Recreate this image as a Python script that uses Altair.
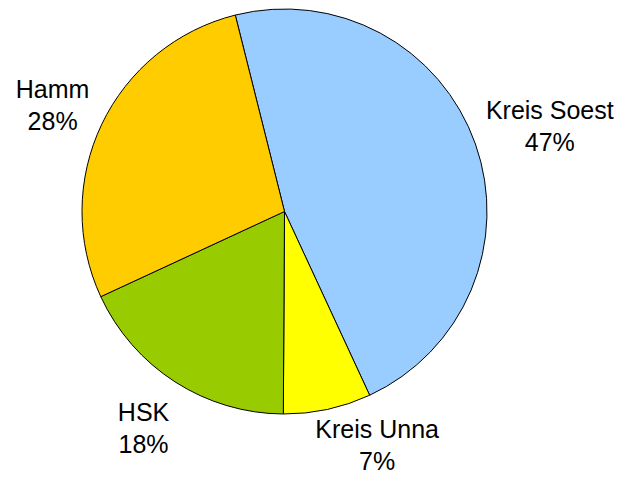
import math
import altair as alt
import pandas as pd

# Data
regions = ["Kreis Soest", "Kreis Unna", "HSK", "Hamm"]
shares = [47, 7, 18, 28]
colors = ["#99CCFF", "#FFFF00", "#99CC00", "#FFCC00"]

df = pd.DataFrame({
    "region": regions,
    "share": shares,
    "order": list(range(len(regions))),
    "label": [f"{r}\n{s}%" for r, s in zip(regions, shares)],
})

start = -math.radians(14.07)
cx, cy = 276.5, 203.5
R = 202.5

tscale = alt.Scale(domain=[0, sum(shares)], range=[start, start + 2 * math.pi])
color = alt.Color("region:N", scale=alt.Scale(domain=regions, range=colors), legend=None)

base = alt.Chart(df).transform_stack(
    stack="share", groupby=[], as_=["s0", "s1"], sort=[alt.SortField("order", "ascending")]
).transform_calculate(mid="(datum.s0 + datum.s1) / 2").encode(
    x=alt.value(cx),
    y=alt.value(cy),
)

pie = base.mark_arc(outerRadius=R, stroke="black", strokeWidth=1).encode(
    theta=alt.Theta("s0:Q", scale=tscale),
    theta2="s1:Q",
    color=color,
)


def label_layer(name, dx=0, dy=0):
    return base.transform_filter(alt.datum.region == name).mark_text(
        radius=257, dx=dx, dy=dy - 15, fontSize=25, lineHeight=32,
        font="Liberation Sans", color="black", align="center", baseline="middle",
        lineBreak="\n",
    ).encode(theta=alt.Theta("mid:Q", scale=tscale, stack=None), text="label:N")


labels = [
    label_layer("Kreis Soest", dx=23),
    label_layer("Kreis Unna", dx=38, dy=-18),
    label_layer("HSK", dx=-2),
    label_layer("Hamm", dy=4),
]

chart = alt.layer(pie, *labels).properties(
    width=612, height=466, padding=0,
    autosize=alt.AutoSizeParams(type="none"),
).configure_view(stroke=None)

chart.save("out.html", embed_options={"renderer": "svg", "actions": False})
